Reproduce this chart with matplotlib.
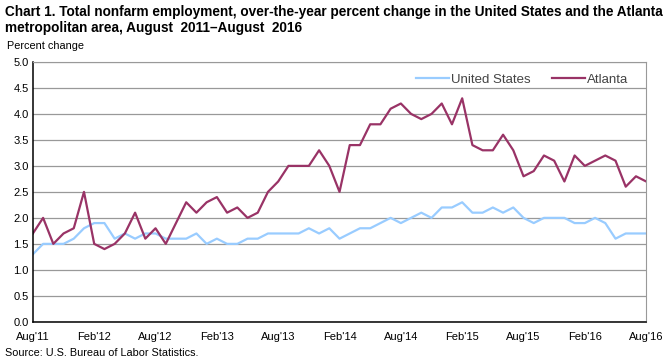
import numpy as np
import matplotlib.pyplot as plt

# monthly, Aug 2011 .. Aug 2016
months = np.arange(61)
tick_labels = ["Aug'11", "Feb'12", "Aug'12", "Feb'13", "Aug'13", "Feb'14",
               "Aug'14", "Feb'15", "Aug'15", "Feb'16", "Aug'16"]

united_states = [1.3, 1.5, 1.5, 1.5, 1.6, 1.8, 1.9, 1.9, 1.6, 1.7,
                 1.6, 1.7, 1.7, 1.6, 1.6, 1.6, 1.7, 1.5, 1.6, 1.5,
                 1.5, 1.6, 1.6, 1.7, 1.7, 1.7, 1.7, 1.8, 1.7, 1.8,
                 1.6, 1.7, 1.8, 1.8, 1.9, 2.0, 1.9, 2.0, 2.1, 2.0,
                 2.2, 2.2, 2.3, 2.1, 2.1, 2.2, 2.1, 2.2, 2.0, 1.9,
                 2.0, 2.0, 2.0, 1.9, 1.9, 2.0, 1.9, 1.6, 1.7, 1.7,
                 1.7]
atlanta = [1.7, 2.0, 1.5, 1.7, 1.8, 2.5, 1.5, 1.4, 1.5, 1.7,
           2.1, 1.6, 1.8, 1.5, 1.9, 2.3, 2.1, 2.3, 2.4, 2.1,
           2.2, 2.0, 2.1, 2.5, 2.7, 3.0, 3.0, 3.0, 3.3, 3.0,
           2.5, 3.4, 3.4, 3.8, 3.8, 4.1, 4.2, 4.0, 3.9, 4.0,
           4.2, 3.8, 4.3, 3.4, 3.3, 3.3, 3.6, 3.3, 2.8, 2.9,
           3.2, 3.1, 2.7, 3.2, 3.0, 3.1, 3.2, 3.1, 2.6, 2.8,
           2.7]

plt.rcParams['font.family'] = ['Liberation Sans', 'DejaVu Sans']

fig = plt.figure(figsize=(6.71, 3.6), dpi=100)
ax = fig.add_axes([0.049, 0.106, 0.914, 0.722])

ax.plot(months, united_states, color='#99ccff', lw=1.6, label='United States')
ax.plot(months, atlanta, color='#993366', lw=1.6, label='Atlanta')

ax.set_xlim(0, 60)
ax.set_ylim(0, 5)
ax.set_yticks(np.arange(0, 5.01, 0.5))
ax.set_yticklabels([f"{v:.1f}" for v in np.arange(0, 5.01, 0.5)], fontsize=8)
ax.set_xticks(months[::6])
ax.set_xticklabels(tick_labels, fontsize=8)
ax.tick_params(axis='y', length=0, pad=3)
ax.tick_params(axis='x', length=0, pad=7)
ax.grid(axis='y', color='#999999', lw=0.9)
ax.set_axisbelow(True)
for s in ['top', 'right']:
    ax.spines[s].set_color('#999999')
for s in ['left', 'bottom']:
    ax.spines[s].set_color('black')
    ax.spines[s].set_linewidth(1.1)

ax.legend(loc='upper right', bbox_to_anchor=(0.99, 1.0), ncol=2, frameon=False,
          fontsize=9.5, handlelength=2.5, handletextpad=0.15, columnspacing=1.6,
          labelcolor='#444444')

fig.text(0.007, 0.985, "Chart 1. Total nonfarm employment, over-the-year percent change in the United States and the Atlanta\nmetropolitan area, August  2011\u2013August  2016",
         fontsize=9.8, fontweight='bold', va='top', ha='left', linespacing=1.15)
fig.text(0.010, 0.872, "Percent change", fontsize=7.8, va='center', ha='left')
fig.text(0.007, 0.019, "Source: U.S. Bureau of Labor Statistics.", fontsize=7.8, va='center', ha='left')

fig.savefig('out.png', dpi=100)
